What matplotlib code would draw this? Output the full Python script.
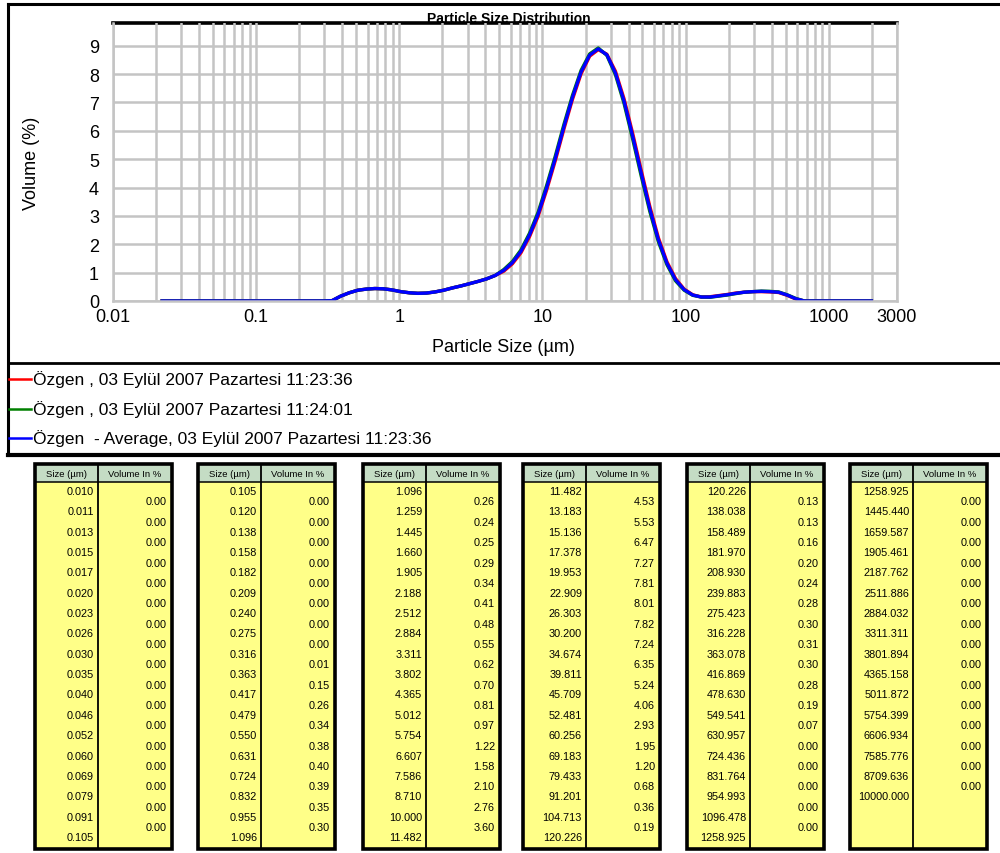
import numpy as np
import matplotlib.pyplot as plt
from matplotlib.patches import Rectangle
from matplotlib.ticker import LogLocator, NullFormatter

# size class edges (um) and volume % per class, as printed in the tables
sizes = [0.010, 0.011, 0.013, 0.015, 0.017, 0.020, 0.023, 0.026, 0.030, 0.035,
         0.040, 0.046, 0.052, 0.060, 0.069, 0.079, 0.091, 0.105,
         0.120, 0.138, 0.158, 0.182, 0.209, 0.240, 0.275, 0.316, 0.363, 0.417,
         0.479, 0.550, 0.631, 0.724, 0.832, 0.955, 1.096,
         1.259, 1.445, 1.660, 1.905, 2.188, 2.512, 2.884, 3.311, 3.802, 4.365,
         5.012, 5.754, 6.607, 7.586, 8.710, 10.000, 11.482,
         13.183, 15.136, 17.378, 19.953, 22.909, 26.303, 30.200, 34.674, 39.811,
         45.709, 52.481, 60.256, 69.183, 79.433, 91.201, 104.713, 120.226,
         138.038, 158.489, 181.970, 208.930, 239.883, 275.423, 316.228, 363.078,
         416.869, 478.630, 549.541, 630.957, 724.436, 831.764, 954.993, 1096.478,
         1258.925, 1445.440, 1659.587, 1905.461, 2187.762, 2511.886, 2884.032,
         3311.311, 3801.894, 4365.158, 5011.872, 5754.399, 6606.934, 7585.776,
         8709.636, 10000.000]

volumes = [0.00, 0.00, 0.00, 0.00, 0.00, 0.00, 0.00, 0.00, 0.00, 0.00,
           0.00, 0.00, 0.00, 0.00, 0.00, 0.00, 0.00,
           0.00, 0.00, 0.00, 0.00, 0.00, 0.00, 0.00, 0.00, 0.01, 0.15,
           0.26, 0.34, 0.38, 0.40, 0.39, 0.35, 0.30,
           0.26, 0.24, 0.25, 0.29, 0.34, 0.41, 0.48, 0.55, 0.62, 0.70,
           0.81, 0.97, 1.22, 1.58, 2.10, 2.76, 3.60,
           4.53, 5.53, 6.47, 7.27, 7.81, 8.01, 7.82, 7.24, 6.35, 5.24,
           4.06, 2.93, 1.95, 1.20, 0.68, 0.36, 0.19,
           0.13, 0.13, 0.16, 0.20, 0.24, 0.28, 0.30, 0.31, 0.30, 0.28,
           0.19, 0.07, 0.00, 0.00, 0.00, 0.00, 0.00,
           0.00, 0.00, 0.00, 0.00, 0.00, 0.00, 0.00, 0.00, 0.00, 0.00,
           0.00, 0.00, 0.00, 0.00, 0.00]

# table splits: (first size index, number of sizes)
table_slices = [(0, 18), (17, 18), (34, 18), (51, 18), (68, 18), (85, 16)]

# curves, classes 0.020 .. 1905 um
curve_first = 5
curve_avg = [0, 0, 0, 0, 0, 0, 0, 0, 0, 0, 0, 0, 0, 0, 0, 0, 0, 0, 0, 0,
             0.01, 0.17, 0.29, 0.38, 0.42, 0.44, 0.43, 0.39, 0.33,
             0.29, 0.27, 0.28, 0.32, 0.38, 0.46, 0.53, 0.61, 0.69, 0.78, 0.90,
             1.08, 1.35, 1.75, 2.33, 3.06, 4.00,
             5.03, 6.14, 7.18, 8.07, 8.67, 8.89, 8.68, 8.04, 7.05, 5.82, 4.51,
             3.25, 2.16, 1.33, 0.75, 0.40, 0.21,
             0.14, 0.14, 0.18, 0.22, 0.27, 0.31, 0.33, 0.34, 0.33, 0.31, 0.21, 0.08,
             0, 0, 0, 0, 0, 0, 0, 0, 0]
curve_run1 = [0, 0, 0, 0, 0, 0, 0, 0, 0, 0, 0, 0, 0, 0, 0, 0, 0, 0, 0, 0,
              0.01, 0.17, 0.29, 0.38, 0.42, 0.44, 0.43, 0.39, 0.33,
              0.29, 0.27, 0.28, 0.32, 0.38, 0.46, 0.53, 0.61, 0.69, 0.78, 0.90,
              1.05, 1.31, 1.70, 2.27, 2.99, 3.92,
              4.95, 6.06, 7.11, 8.01, 8.63, 8.86, 8.70, 8.10, 7.13, 5.92, 4.61,
              3.34, 2.23, 1.38, 0.79, 0.42, 0.22,
              0.14, 0.15, 0.19, 0.23, 0.28, 0.31, 0.33, 0.33, 0.32, 0.30, 0.20, 0.07,
              0, 0, 0, 0, 0, 0, 0, 0, 0]
curve_run2 = [0, 0, 0, 0, 0, 0, 0, 0, 0, 0, 0, 0, 0, 0, 0, 0, 0, 0, 0, 0,
              0.01, 0.17, 0.29, 0.38, 0.42, 0.44, 0.43, 0.39, 0.33,
              0.29, 0.27, 0.28, 0.32, 0.38, 0.46, 0.53, 0.61, 0.69, 0.78, 0.90,
              1.11, 1.39, 1.80, 2.39, 3.13, 4.08,
              5.11, 6.22, 7.25, 8.13, 8.71, 8.92, 8.66, 7.98, 6.97, 5.72, 4.41,
              3.16, 2.09, 1.28, 0.71, 0.38, 0.20,
              0.14, 0.13, 0.17, 0.21, 0.26, 0.31, 0.33, 0.35, 0.34, 0.32, 0.22, 0.09,
              0, 0, 0, 0, 0, 0, 0, 0, 0]

legend_labels = ['Özgen , 03 Eylül 2007 Pazartesi 11:23:36',
                 'Özgen , 03 Eylül 2007 Pazartesi 11:24:01',
                 'Özgen  - Average, 03 Eylül 2007 Pazartesi 11:23:36']
legend_colors = ['red', 'green', 'blue']
x_ticks = [0.01, 0.1, 1, 10, 100, 1000, 3000]
x_tick_labels = ['0.01', '0.1', '1', '10', '100', '1000', '3000']
y_ticks = [0, 1, 2, 3, 4, 5, 6, 7, 8, 9]

plt.rcParams['font.family'] = ['Liberation Sans', 'DejaVu Sans']

W, H = 1000, 854
fig = plt.figure(figsize=(10, 8.54), dpi=100)

# pixel-coordinate overlay for frames, labels and tables
bg = fig.add_axes([0, 0, 1, 1])
bg.set_xlim(0, W)
bg.set_ylim(H, 0)
bg.axis('off')

# chart
ax = fig.add_axes([113 / W, 1 - 302 / H, (897 - 113) / W, (302 - 24) / H])
grid_col = '#c4c4c4'
ymax = 9.8
ax.set_xscale('log')
ax.set_xlim(0.01, 3000)
ax.set_ylim(0, ymax)
ax.set_xticks(x_ticks, x_tick_labels)
ax.xaxis.set_minor_locator(LogLocator(base=10, subs=np.arange(2, 10), numticks=100))
ax.xaxis.set_minor_formatter(NullFormatter())
ax.set_yticks(y_ticks)
ax.tick_params(which='both', length=0, labelsize=13)
ax.tick_params(axis='x', pad=5)
ax.tick_params(axis='y', pad=10)
ax.set_axisbelow(True)
ax.grid(True, which='both', axis='x', color=grid_col, lw=1.8)
ax.grid(True, which='major', axis='y', color=grid_col, lw=1.8)
for s in ['left', 'right', 'bottom']:
    ax.spines[s].set_color(grid_col)
    ax.spines[s].set_linewidth(1.8)
ax.spines['top'].set_visible(False)
ax.axhline(ymax, color='black', lw=2.6, zorder=0.1, clip_on=False)

edges = np.array(sizes)
mids = np.sqrt(edges[:-1] * edges[1:])
cx = mids[curve_first:curve_first + len(curve_avg)]
for vals, col in zip([curve_run1, curve_run2, curve_avg], legend_colors):
    ax.plot(cx, vals, color=col, lw=2.4, solid_capstyle='butt', solid_joinstyle='round')

bg.text(509, 23, 'Particle Size Distribution', ha='center', va='baseline',
        fontsize=10, fontweight='bold')
bg.text(31, 163, 'Volume (%)', rotation=90, ha='center', va='center', fontsize=13)
bg.text(503, 348, 'Particle Size (µm)', ha='center', va='center', fontsize=13)

# frame around chart and legend
bg.plot([8, W + 5], [5, 5], color='black', lw=2.2)
bg.plot([8, 8], [5, 456], color='black', lw=2.2)
bg.plot([8, W + 5], [364, 364], color='black', lw=2)
bg.plot([8, W + 5], [456, 456], color='black', lw=3)

# legend
for i, (lab, col) in enumerate(zip(legend_labels, legend_colors)):
    yy = 380 + i * 29.5
    bg.plot([9, 31], [yy, yy], color=col, lw=1.8)
    bg.text(33, yy, lab, ha='left', va='center', fontsize=12.5)

# tables
t_lefts = [35, 198, 363, 523, 687, 850]
t_w, t_div = 137, 63
t_top, t_head, t_bot = 465, 483, 850
row_h = 20.35
for left, (start, n) in zip(t_lefts, table_slices):
    bg.add_patch(Rectangle((left, t_head), t_w, t_bot - t_head, facecolor='#ffff88',
                           edgecolor='none'))
    bg.add_patch(Rectangle((left, t_top), t_w, t_head - t_top, facecolor='#c4dcc4',
                           edgecolor='none'))
    bg.add_patch(Rectangle((left, t_top), t_w, t_bot - t_top, facecolor='none',
                           edgecolor='black', lw=2.6))
    bg.plot([left + t_div, left + t_div], [t_top, t_bot], color='black', lw=1.3)
    bg.plot([left, left + t_w], [t_head, t_head], color='black', lw=1.1)
    bg.text(left + t_div / 2, (t_top + t_head) / 2 + 0.5, 'Size (µm)', ha='center',
            va='center', fontsize=6.8)
    bg.text(left + t_div + (t_w - t_div) / 2, (t_top + t_head) / 2 + 0.5, 'Volume In %',
            ha='center', va='center', fontsize=6.8)
    for k in range(n):
        bg.text(left + t_div - 4, 492 + k * row_h, '%.3f' % sizes[start + k],
                ha='right', va='center', fontsize=7.8)
        if k < n - 1:
            bg.text(left + t_w - 5, 502.5 + k * row_h, '%.2f' % volumes[start + k],
                    ha='right', va='center', fontsize=7.8)

fig.savefig('out.png', dpi=100)
